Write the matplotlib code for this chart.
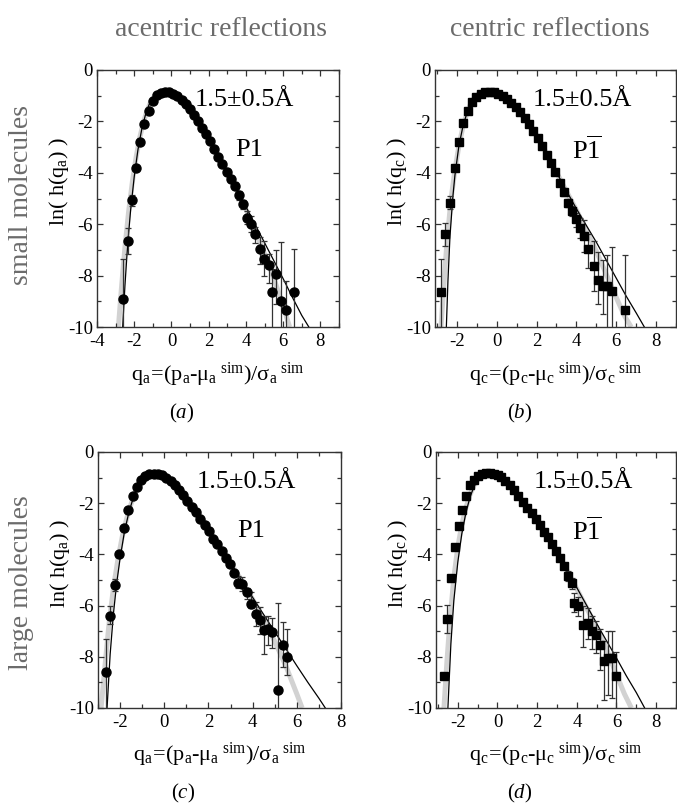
import matplotlib
matplotlib.use("Agg")
import matplotlib.pyplot as plt
from matplotlib.ticker import MultipleLocator

plt.rcParams["font.family"] = ["Liberation Serif", "DejaVu Serif"]
plt.rcParams["mathtext.fontset"] = "custom"
plt.rcParams["mathtext.rm"] = "Liberation Serif"
plt.rcParams["mathtext.it"] = "Liberation Serif:italic"
plt.rcParams["mathtext.bf"] = "Liberation Serif:bold"
plt.rcParams["axes.unicode_minus"] = False

# ---- (a) small molecules, acentric ----
a_x = [-2.60, -2.35, -2.12, -1.89, -1.67, -1.46, -1.22, -1.00, -0.78, -0.56, -0.34, -0.12,
       0.10, 0.32, 0.54, 0.76, 0.98, 1.20, 1.42, 1.64, 1.86, 2.08, 2.30, 2.52, 2.74, 2.96,
       3.18, 3.40, 3.62, 3.84, 4.06, 4.28, 4.51, 4.75, 4.96, 5.23, 5.41, 5.64, 5.86, 6.13, 6.57]
a_y = [-8.90, -6.65, -5.07, -3.83, -2.81, -2.10, -1.61, -1.22, -0.98, -0.88, -0.85, -0.86,
       -0.92, -1.02, -1.15, -1.32, -1.52, -1.76, -2.00, -2.24, -2.50, -2.78, -3.08, -3.38,
       -3.66, -3.98, -4.24, -4.50, -4.88, -5.22, -5.74, -6.00, -6.39, -6.97, -7.35, -7.60,
       -8.65, -7.94, -8.97, -9.35, -8.65]
a_ebx = [-2.60, -2.35, -2.12, 3.18, 3.40, 3.62, 3.84, 4.06, 4.28, 4.51, 4.75, 4.96, 5.23,
         5.41, 5.64, 5.86, 6.13, 6.57]
a_ebtop = [-7.35, -6.13, -4.88, -4.12, -4.36, -4.72, -5.05, -5.50, -5.68, -6.10, -6.50,
           -6.65, -7.15, -7.75, -7.00, -6.70, -8.20, -6.95]
a_ebbot = [-10.5, -7.16, -5.30, -4.36, -4.64, -5.05, -5.42, -6.00, -6.30, -6.75, -7.55,
           -8.00, -8.30, -10.5, -9.10, -10.5, -10.5, -10.5]
a_bx = [-2.62, -2.50, -2.40, -2.30, -2.20, -2.00, -1.80, -1.60, -1.40, -1.20, -1.00, -0.80,
        -0.60, -0.40, -0.20, 0.00, 0.40, 0.80, 1.20, 1.60, 2.00, 2.50, 3.00, 3.50, 4.00,
        4.50, 5.00, 5.50, 6.00, 6.50, 7.00, 7.38]
a_by = [-10.0, -8.40, -7.30, -6.35, -5.50, -4.15, -3.10, -2.32, -1.75, -1.34, -1.07, -0.93,
        -0.86, -0.84, -0.86, -0.90, -1.08, -1.36, -1.72, -2.15, -2.62, -3.25, -3.92, -4.62,
        -5.32, -6.02, -6.72, -7.42, -8.12, -8.85, -9.55, -10.0]
a_gx = [-2.85, -2.70, -2.50, -2.30, -2.10, -1.90, -1.70, -1.50, -1.30, -1.10, -0.90, -0.60,
        -0.40, -0.20, 0.00, 0.40, 0.80, 1.20, 1.60, 2.00, 2.50, 3.00, 3.50, 4.00, 4.50,
        5.00, 5.50, 6.00, 6.35]
a_gy = [-10.0, -8.60, -6.90, -5.50, -4.35, -3.40, -2.62, -2.02, -1.56, -1.22, -0.99, -0.86,
        -0.84, -0.86, -0.90, -1.08, -1.36, -1.72, -2.15, -2.62, -3.25, -3.92, -4.65, -5.42,
        -6.25, -7.15, -8.10, -9.20, -10.0]

# ---- (b) small molecules, centric ----
b_x = [-2.79, -2.59, -2.33, -2.12, -1.90, -1.68, -1.46, -1.24, -1.02, -0.80, -0.58, -0.36,
       -0.14, 0.08, 0.30, 0.52, 0.74, 0.96, 1.18, 1.40, 1.62, 1.84, 2.06, 2.28, 2.50, 2.72,
       2.94, 3.16, 3.38, 3.60, 3.80, 4.00, 4.20, 4.40, 4.60, 4.87, 5.07, 5.32, 5.54, 5.78, 6.45]
b_y = [-8.65, -6.39, -5.16, -3.81, -2.80, -2.06, -1.58, -1.25, -1.04, -0.93, -0.86, -0.84,
       -0.86, -0.92, -1.00, -1.12, -1.27, -1.45, -1.65, -1.87, -2.10, -2.37, -2.65, -2.95,
       -3.30, -3.62, -3.98, -4.40, -4.75, -5.16, -5.48, -5.80, -6.13, -6.45, -6.97, -7.61,
       -8.19, -8.39, -8.39, -8.61, -9.33]
b_ebx = [-2.79, -2.59, -2.33, 3.38, 3.60, 3.80, 4.00, 4.20, 4.40, 4.60, 4.87, 5.07, 5.32,
         5.54, 5.78, 6.45]
b_ebtop = [-7.35, -5.94, -4.92, -4.62, -5.00, -5.30, -5.55, -5.75, -5.85, -6.40, -6.65,
           -7.10, -7.40, -7.20, -6.90, -7.20]
b_ebbot = [-10.5, -6.84, -5.40, -4.90, -5.35, -5.70, -6.10, -6.55, -7.10, -7.70, -8.60,
           -9.10, -9.50, -10.5, -10.5, -10.5]
b_bx = [-2.53, -2.45, -2.35, -2.20, -2.10, -1.90, -1.70, -1.50, -1.30, -1.10, -0.90, -0.70,
        -0.45, -0.20, 0.00, 0.40, 0.80, 1.20, 1.60, 2.00, 2.50, 3.00, 3.50, 4.00, 4.50,
        5.00, 5.50, 6.00, 6.50, 7.00, 7.41]
b_by = [-10.0, -8.20, -6.50, -4.90, -4.10, -2.95, -2.20, -1.68, -1.30, -1.05, -0.92, -0.86,
        -0.84, -0.87, -0.92, -1.08, -1.35, -1.70, -2.08, -2.55, -3.25, -3.98, -4.70, -5.40,
        -6.05, -6.70, -7.40, -8.10, -8.80, -9.45, -10.0]
b_gx = [-2.80, -2.65, -2.50, -2.30, -2.10, -1.90, -1.70, -1.50, -1.30, -1.10, -0.90, -0.70,
        -0.45, -0.20, 0.00, 0.40, 0.80, 1.20, 1.60, 2.00, 2.50, 3.00, 3.50, 4.00, 4.50,
        5.00, 5.50, 6.00, 6.40, 6.75]
b_gy = [-10.0, -8.30, -6.70, -5.05, -3.90, -2.95, -2.22, -1.68, -1.30, -1.05, -0.92, -0.86,
        -0.84, -0.87, -0.92, -1.08, -1.35, -1.70, -2.08, -2.55, -3.25, -3.98, -4.72, -5.45,
        -6.25, -7.05, -7.95, -8.85, -9.55, -10.0]

# ---- (c) large molecules, acentric ----
c_x = [-2.66, -2.45, -2.23, -2.03, -1.83, -1.65, -1.43, -1.23, -1.05, -0.86, -0.67, -0.47,
       -0.28, -0.10, 0.10, 0.30, 0.48, 0.68, 0.87, 1.05, 1.25, 1.44, 1.62, 1.83, 2.03, 2.21,
       2.40, 2.60, 2.78, 2.98, 3.16, 3.34, 3.53, 3.76, 3.94, 4.14, 4.33, 4.51, 4.71, 4.89,
       5.14, 5.38, 5.56]
c_y = [-8.58, -6.39, -5.19, -3.97, -2.97, -2.28, -1.72, -1.35, -1.10, -0.94, -0.87, -0.85,
       -0.86, -0.90, -1.00, -1.14, -1.29, -1.48, -1.68, -1.91, -2.13, -2.35, -2.60, -2.84,
       -3.10, -3.38, -3.61, -3.87, -4.13, -4.39, -4.71, -5.10, -5.16, -5.48, -5.94, -6.32,
       -6.58, -6.97, -6.92, -7.05, -9.29, -7.55, -8.00]
c_ebx = [-2.66, -2.45, -2.23, 3.34, 3.53, 3.76, 3.94, 4.14, 4.33, 4.51, 4.71, 4.89, 5.14,
         5.38, 5.56]
c_ebtop = [-7.29, -6.00, -4.97, -4.85, -4.90, -5.30, -5.45, -5.85, -6.05, -6.45, -6.40,
           -6.50, -5.90, -6.65, -6.90]
c_ebbot = [-10.5, -6.70, -5.42, -5.30, -5.42, -5.75, -6.10, -6.80, -7.10, -7.90, -7.55,
           -7.65, -10.5, -8.40, -8.70]
c_bx = [-2.59, -2.45, -2.30, -2.15, -2.00, -1.80, -1.60, -1.40, -1.20, -1.00, -0.80, -0.55,
        -0.30, 0.00, 0.40, 0.80, 1.20, 1.60, 2.00, 2.50, 3.00, 3.50, 4.00, 4.50, 5.00,
        5.50, 6.00, 6.50, 7.00, 7.29]
c_by = [-10.0, -7.90, -6.30, -5.10, -4.15, -3.10, -2.35, -1.78, -1.37, -1.10, -0.93, -0.85,
        -0.88, -0.97, -1.20, -1.55, -1.98, -2.45, -2.98, -3.65, -4.33, -5.00, -5.68, -6.35,
        -7.02, -7.68, -8.35, -9.00, -9.62, -10.0]
c_gx = [-2.86, -2.70, -2.50, -2.30, -2.10, -1.90, -1.70, -1.50, -1.30, -1.10, -0.90, -0.55,
        -0.30, 0.00, 0.40, 0.80, 1.20, 1.60, 2.00, 2.50, 3.00, 3.50, 4.00, 4.50, 5.00,
        5.50, 6.00, 6.24]
c_gy = [-10.0, -8.50, -6.70, -5.30, -4.20, -3.30, -2.60, -2.02, -1.56, -1.22, -0.98, -0.85,
        -0.88, -0.97, -1.20, -1.55, -1.98, -2.45, -2.98, -3.65, -4.33, -5.02, -5.75, -6.55,
        -7.40, -8.35, -9.45, -10.0]

# ---- (d) large molecules, centric ----
d_x = [-2.72, -2.55, -2.33, -2.12, -1.95, -1.78, -1.58, -1.38, -1.17, -0.97, -0.77, -0.58,
       -0.38, -0.18, 0.02, 0.20, 0.40, 0.62, 0.83, 1.05, 1.28, 1.50, 1.72, 1.92, 2.13, 2.33,
       2.55, 2.75, 2.95, 3.17, 3.33, 3.55, 3.75, 3.85, 4.05, 4.33, 4.55, 4.75, 4.97, 5.17,
       5.37, 5.58, 5.78, 5.95]
d_y = [-8.74, -6.53, -4.93, -3.72, -2.91, -2.26, -1.72, -1.29, -1.09, -0.95, -0.87, -0.83,
       -0.83, -0.85, -0.89, -0.97, -1.12, -1.29, -1.48, -1.72, -1.94, -2.17, -2.39, -2.63,
       -2.85, -3.11, -3.33, -3.59, -3.85, -4.15, -4.45, -4.86, -5.12, -5.90, -6.03, -6.75,
       -6.68, -7.00, -7.14, -7.53, -8.18, -8.05, -8.05, -8.74]
d_ebx = [-2.55, 3.55, 3.75, 3.85, 4.05, 4.33, 4.55, 4.75, 4.97, 5.17, 5.37, 5.58, 5.78, 5.95]
d_ebtop = [-5.97, -4.65, -4.92, -5.50, -5.65, -6.00, -6.10, -6.40, -6.60, -6.90, -7.40,
           -7.00, -7.00, -7.80]
d_ebbot = [-7.07, -5.05, -5.35, -6.25, -6.40, -7.60, -7.30, -7.70, -7.85, -8.50, -9.70,
           -9.50, -9.60, -10.5]
d_bx = [-2.50, -2.35, -2.20, -2.00, -1.80, -1.60, -1.40, -1.20, -1.00, -0.80, -0.50, -0.20,
        0.00, 0.50, 1.00, 1.50, 2.00, 2.50, 3.00, 3.50, 4.00, 4.50, 5.00, 5.50, 6.00, 6.50,
        7.00, 7.42]
d_by = [-10.0, -7.50, -5.80, -4.30, -3.20, -2.40, -1.80, -1.38, -1.10, -0.93, -0.84, -0.86,
        -0.90, -1.18, -1.65, -2.17, -2.72, -3.30, -3.90, -4.60, -5.30, -6.00, -6.70, -7.38,
        -8.05, -8.75, -9.40, -10.0]
d_gx = [-2.70, -2.55, -2.40, -2.20, -2.00, -1.80, -1.60, -1.40, -1.20, -1.00, -0.80, -0.50,
        -0.20, 0.00, 0.50, 1.00, 1.50, 2.00, 2.50, 3.00, 3.50, 4.00, 4.50, 5.00, 5.50,
        6.00, 6.40, 6.75]
d_gy = [-10.0, -8.20, -6.60, -4.90, -3.70, -2.85, -2.20, -1.70, -1.33, -1.08, -0.93, -0.84,
        -0.86, -0.90, -1.18, -1.65, -2.17, -2.72, -3.30, -3.90, -4.62, -5.35, -6.10, -6.85,
        -7.70, -8.70, -9.45, -10.0]

col_titles = ["acentric reflections", "centric reflections"]
row_titles = ["small molecules", "large molecules"]
res_label = "1.5\u00b10.5\u00c5"
GREY_TXT = "#6b6b6b"

W, H = 677, 806
fig = plt.figure(figsize=(W / 100, H / 100), dpi=100)


def rect(left, right, top, bottom):
    return [left / W, 1 - bottom / H, (right - left) / W, (bottom - top) / H]


def panel(box, xlim, x, y, mk, ebx, ebtop, ebbot, bx, by, gx, gy, sub, group, letter):
    ax = fig.add_axes(box)
    ax.plot(gx, gy, color="#d2d2d2", lw=3.6, solid_capstyle="butt", zorder=1)
    ax.plot(bx, by, color="black", lw=0.9, zorder=2)
    ax.vlines(ebx, ebbot, ebtop, color="#333333", lw=0.9, zorder=2.5)
    ax.plot(ebx, ebtop, ls="none", marker="_", ms=5, mew=0.9, color="#333333", zorder=2.5)
    ax.plot(ebx, ebbot, ls="none", marker="_", ms=5, mew=0.9, color="#333333", zorder=2.5)
    ax.plot(x, y, ls="none", marker=mk, ms=6.5 if mk == "o" else 6.0,
            color="black", zorder=3)

    ax.set_xlim(*xlim)
    ax.set_ylim(-10, 0)
    ax.xaxis.set_major_locator(MultipleLocator(2))
    ax.xaxis.set_minor_locator(MultipleLocator(1))
    ax.yaxis.set_major_locator(MultipleLocator(2))
    ax.yaxis.set_minor_locator(MultipleLocator(1))
    ax.tick_params(which="both", direction="in", top=True, right=True,
                   color="#333333", width=0.9)
    ax.tick_params(which="major", length=4.5, labelsize=13.5)
    ax.tick_params(axis="x", which="major", pad=4)
    ax.tick_params(axis="y", which="major", pad=3)
    ax.tick_params(which="minor", length=3)
    for s in ax.spines.values():
        s.set_linewidth(1.0)
        s.set_color("#333333")

    ax.text(-0.158, 0.565, r"$\mathrm{ln(\ h(q_%s)\ )}$" % sub, transform=ax.transAxes,
            rotation=90, ha="center", va="center", fontsize=16)
    ax.text(0.5, -0.185,
            r"$\mathrm{q_%s\!=\!(p_%s\text{-}\mu_%s{}^{\ sim})/\sigma_%s{}^{\ sim}}$"
            % (sub, sub, sub, sub),
            transform=ax.transAxes, ha="center", va="center", fontsize=16)
    ax.text(0.35, -0.335, r"$(\mathit{%s})$" % letter, transform=ax.transAxes,
            ha="center", va="center", fontsize=15)
    ax.text(0.405, 0.883, res_label, transform=ax.transAxes, ha="left", va="center",
            fontsize=19)
    ax.text(0.63, 0.69, group, transform=ax.transAxes, ha="center", va="center",
            fontsize=19)
    return ax


panel(rect(97, 339, 70, 327), (-4, 9), a_x, a_y, "o", a_ebx, a_ebtop, a_ebbot,
      a_bx, a_by, a_gx, a_gy, "a", "P1", "a")
panel(rect(435, 676, 70, 327), (-3.1, 9), b_x, b_y, "s", b_ebx, b_ebtop, b_ebbot,
      b_bx, b_by, b_gx, b_gy, "c", r"$\mathrm{P}\overline{\mathrm{1}}$", "b")
panel(rect(98, 341, 452, 708), (-3, 8), c_x, c_y, "o", c_ebx, c_ebtop, c_ebbot,
      c_bx, c_by, c_gx, c_gy, "a", "P1", "c")
panel(rect(436, 676, 452, 708), (-3.1, 9), d_x, d_y, "s", d_ebx, d_ebtop, d_ebbot,
      d_bx, d_by, d_gx, d_gy, "c", r"$\mathrm{P}\overline{\mathrm{1}}$", "d")

fig.text(221 / W, 1 - 30 / H, col_titles[0], ha="center", va="center",
         fontsize=20, color=GREY_TXT)
fig.text(550 / W, 1 - 30 / H, col_titles[1], ha="center", va="center",
         fontsize=20, color=GREY_TXT)
fig.text(22 / W, 1 - 195 / H, row_titles[0], ha="center", va="center", rotation=90,
         fontsize=20, color=GREY_TXT)
fig.text(22 / W, 1 - 583 / H, row_titles[1], ha="center", va="center", rotation=90,
         fontsize=20, color=GREY_TXT)

fig.savefig("out.png", dpi=100, facecolor="white")
